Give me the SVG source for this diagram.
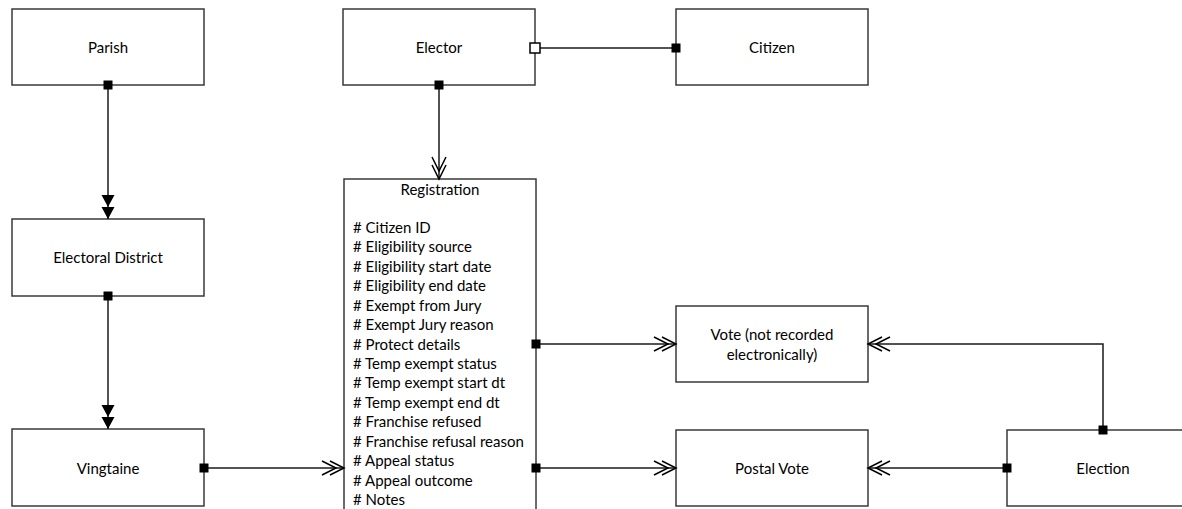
<svg xmlns="http://www.w3.org/2000/svg" width="1182" height="509" viewBox="0 0 1182 509">
<style>
.box{fill:#fff;stroke:#3a3a3a;stroke-width:1.5}
.lbl{font-family:Lato,"Liberation Sans",sans-serif;font-size:15px;fill:#000;text-anchor:middle;dominant-baseline:central}
.attr{font-family:Lato,"Liberation Sans",sans-serif;font-size:15px;fill:#000}
.conn{fill:none;stroke:#1a1a1a;stroke-width:1.5}
</style>
<defs>
<marker id="sq" markerUnits="userSpaceOnUse" markerWidth="12" markerHeight="12" refX="6" refY="6" orient="auto" overflow="visible">
<rect x="1.5" y="1.5" width="9" height="9" fill="#000"/>
</marker>
<marker id="sqo" markerUnits="userSpaceOnUse" markerWidth="12" markerHeight="12" refX="6" refY="6" orient="auto" overflow="visible">
<rect x="1" y="1" width="10" height="10" fill="#fff" stroke="#000" stroke-width="1.5"/>
</marker>
<marker id="tri2" markerUnits="userSpaceOnUse" markerWidth="30" markerHeight="16" refX="26" refY="8" orient="auto" overflow="visible">
<path d="M26,8 L14,1.5 L14,14.5 Z M14,8 L2,1.5 L2,14.5 Z" fill="#000"/>
</marker>
<marker id="chev2" markerUnits="userSpaceOnUse" markerWidth="26" markerHeight="18" refX="24" refY="9" orient="auto" overflow="visible">
<path d="M10,2 L24,9 L10,16 M2,2 L16,9 L2,16" fill="none" stroke="#000" stroke-width="1.5"/>
</marker>
</defs>
<g id="parish"><rect class="box" x="12" y="9" width="192" height="76"/><text class="lbl" x="108" y="47">Parish</text></g>
<g id="elector"><rect class="box" x="343" y="9" width="192" height="76"/><text class="lbl" x="439" y="47">Elector</text></g>
<g id="citizen"><rect class="box" x="676" y="9" width="192" height="76"/><text class="lbl" x="772" y="47">Citizen</text></g>
<g id="electoral-district"><rect class="box" x="12" y="219" width="192" height="77"/><text class="lbl" x="108" y="257">Electoral District</text></g>
<g id="vingtaine"><rect class="box" x="12" y="429" width="192" height="77"/><text class="lbl" x="108" y="468">Vingtaine</text></g>
<g id="registration">
<rect class="box" x="344" y="179" width="192" height="340"/>
<text class="lbl" x="440" y="189">Registration</text>
<text class="attr" x="353" y="233">
<tspan x="353" y="233"># Citizen ID</tspan>
<tspan x="353" dy="19.43"># Eligibility source</tspan>
<tspan x="353" dy="19.43"># Eligibility start date</tspan>
<tspan x="353" dy="19.43"># Eligibility end date</tspan>
<tspan x="353" dy="19.43"># Exempt from Jury</tspan>
<tspan x="353" dy="19.43"># Exempt Jury reason</tspan>
<tspan x="353" dy="19.43"># Protect details</tspan>
<tspan x="353" dy="19.43"># Temp exempt status</tspan>
<tspan x="353" dy="19.43"># Temp exempt start dt</tspan>
<tspan x="353" dy="19.43"># Temp exempt end dt</tspan>
<tspan x="353" dy="19.43"># Franchise refused</tspan>
<tspan x="353" dy="19.43"># Franchise refusal reason</tspan>
<tspan x="353" dy="19.43"># Appeal status</tspan>
<tspan x="353" dy="19.43"># Appeal outcome</tspan>
<tspan x="353" dy="19.43"># Notes</tspan>
</text>
</g>
<g id="vote"><rect class="box" x="676" y="306" width="192" height="76"/><text class="lbl" x="772" y="334">Vote (not recorded</text><text class="lbl" x="772" y="354">electronically)</text></g>
<g id="postal-vote"><rect class="box" x="676" y="430" width="192" height="76"/><text class="lbl" x="772" y="468">Postal Vote</text></g>
<g id="election"><rect class="box" x="1007" y="430" width="192" height="76"/><text class="lbl" x="1103" y="468">Election</text></g>
<g id="connectors">
<path class="conn" d="M108,85 L108,219" marker-start="url(#sq)" marker-end="url(#tri2)"/>
<path class="conn" d="M108,296 L108,429" marker-start="url(#sq)" marker-end="url(#tri2)"/>
<path class="conn" d="M204,468 L344,468" marker-start="url(#sq)" marker-end="url(#chev2)"/>
<path class="conn" d="M439,85 L439,179" marker-start="url(#sq)" marker-end="url(#chev2)"/>
<path class="conn" d="M535,48 L676,48" marker-start="url(#sqo)" marker-end="url(#sq)"/>
<path class="conn" d="M536,344 L676,344" marker-start="url(#sq)" marker-end="url(#chev2)"/>
<path class="conn" d="M536,468 L676,468" marker-start="url(#sq)" marker-end="url(#chev2)"/>
<path class="conn" d="M1103,430 L1103,344 L868,344" marker-start="url(#sq)" marker-end="url(#chev2)"/>
<path class="conn" d="M1007,468 L868,468" marker-start="url(#sq)" marker-end="url(#chev2)"/>
</g>
</svg>
